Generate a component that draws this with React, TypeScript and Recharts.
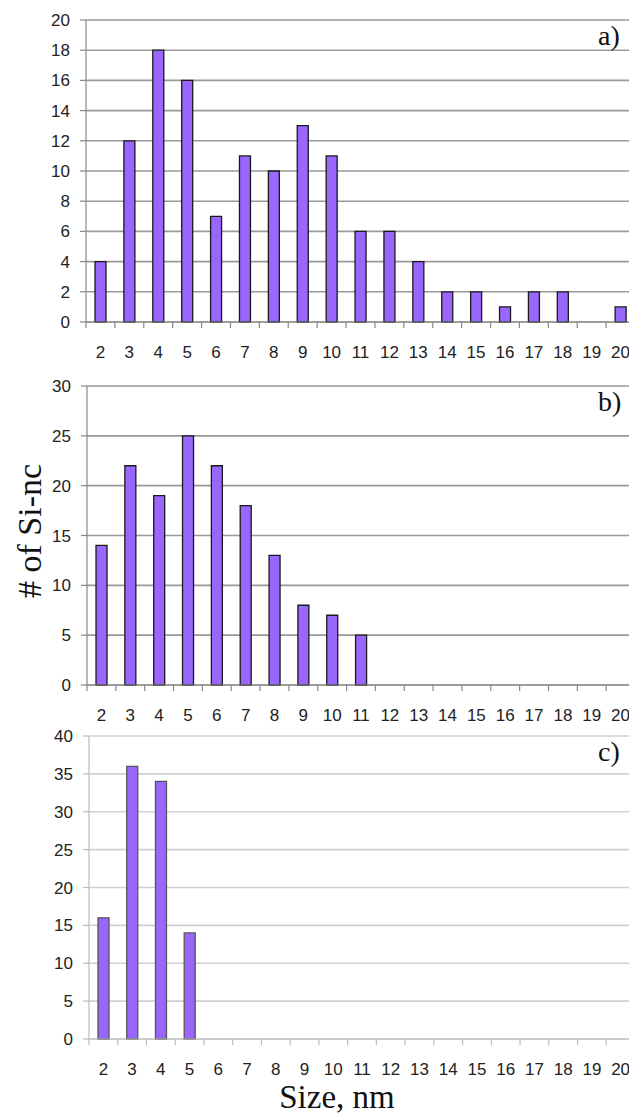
import React from 'react';
import { BarChart, Bar, XAxis, YAxis, CartesianGrid } from 'recharts';

// nanocrystal size bins, nm
const sizes = ['2', '3', '4', '5', '6', '7', '8', '9', '10', '11', '12', '13', '14', '15', '16', '17', '18', '19', '20'];

const countsA = [4, 12, 18, 16, 7, 11, 10, 13, 11, 6, 6, 4, 2, 2, 1, 2, 2, 0, 1];
const countsB = [14, 22, 19, 25, 22, 18, 13, 8, 7, 5, 0, 0, 0, 0, 0, 0, 0, 0, 0];
const countsC = [16, 36, 34, 14, 0, 0, 0, 0, 0, 0, 0, 0, 0, 0, 0, 0, 0, 0, 0];

const ticksA = [0, 2, 4, 6, 8, 10, 12, 14, 16, 18, 20];
const ticksB = [0, 5, 10, 15, 20, 25, 30];
const ticksC = [0, 5, 10, 15, 20, 25, 30, 35, 40];

const CHART_W = 640;
const RIGHT = 5;
const X_AXIS_H = 48;
const sans = '"Liberation Sans", Arial, sans-serif';
const serif = '"Liberation Serif", "Times New Roman", serif';

type PanelProps = {
    counts: number[];
    ticks: number[];
    top: number;
    height: number;
    yWidth: number;
    grid: string;
    axis: string;
    barStroke: string;
    tag: string;
};

const Panel = ({ counts, ticks, top, height, yWidth, grid, axis, barStroke, tag }: PanelProps) => {
    const data = sizes.map((s, i) => ({ size: s, count: counts[i] }));
    const step = (CHART_W - RIGHT - yWidth) / sizes.length;

    // label under each bin plus a short tick at the bin's left edge
    const SizeTick = (props: any) => {
        const { x, y, payload } = props;
        return (
            <g>
                <line x1={x - step / 2} y1={y} x2={x - step / 2} y2={y + 6} stroke={axis} strokeWidth={1.2} />
                <text x={x} y={y + 30} textAnchor="middle" dominantBaseline="central"
                    fontFamily={sans} fontSize={17} fill="#222">{payload.value}</text>
            </g>
        );
    };

    return (
        <div style={{ position: 'absolute', left: 0, top }}>
            <BarChart width={CHART_W} height={height} data={data}
                margin={{ top: 20, right: RIGHT, left: 0, bottom: 0 }} barCategoryGap={0}>
                <CartesianGrid vertical={false} stroke={grid} strokeWidth={1.6} />
                <XAxis dataKey="size" height={X_AXIS_H} interval={0} tickLine={false}
                    tickSize={0} tickMargin={0} stroke={axis} strokeWidth={1.2} tick={SizeTick} />
                <YAxis width={yWidth} domain={[0, ticks[ticks.length - 1]]} ticks={ticks} interval={0}
                    tickSize={6} tickMargin={10} stroke={axis} strokeWidth={1.2}
                    tick={{ fontFamily: sans, fontSize: 17, fill: '#222' }} />
                <Bar dataKey="count" barSize={11} fill="#9966ff" stroke={barStroke} strokeWidth={1.3}
                    isAnimationActive={false} />
            </BarChart>
            <div style={{
                position: 'absolute', left: 598, top: 0, marginTop: 19, fontFamily: serif,
                fontSize: 28, lineHeight: '34px', color: '#111'
            }}>{tag}</div>
        </div>
    );
};

export default function App() {
    return (
        <div style={{
            position: 'absolute', left: 0, top: 0, width: 629, height: 1117,
            overflow: 'hidden', background: '#fff'
        }}>
            <Panel counts={countsA} ticks={ticksA} top={0} height={370} yWidth={86}
                grid="#999" axis="#888" barStroke="#1a1a1a" tag="a)" />
            <Panel counts={countsB} ticks={ticksB} top={366} height={367} yWidth={87}
                grid="#999" axis="#888" barStroke="#1a1a1a" tag="b)" />
            <Panel counts={countsC} ticks={ticksC} top={716} height={371} yWidth={89}
                grid="#d0d0d0" axis="#bbb" barStroke="#555" tag="c)" />
            <div style={{
                position: 'absolute', left: 30, top: 531, transform: 'translate(-50%, -50%) rotate(-90deg)',
                fontFamily: serif, fontSize: 34, lineHeight: 1, whiteSpace: 'nowrap', color: '#111'
            }}># of Si-nc</div>
            <div style={{
                position: 'absolute', left: 337, top: 1081, transform: 'translateX(-50%)',
                fontFamily: serif, fontSize: 33, lineHeight: 1, whiteSpace: 'nowrap', color: '#111'
            }}>Size, nm</div>
        </div>
    );
}
